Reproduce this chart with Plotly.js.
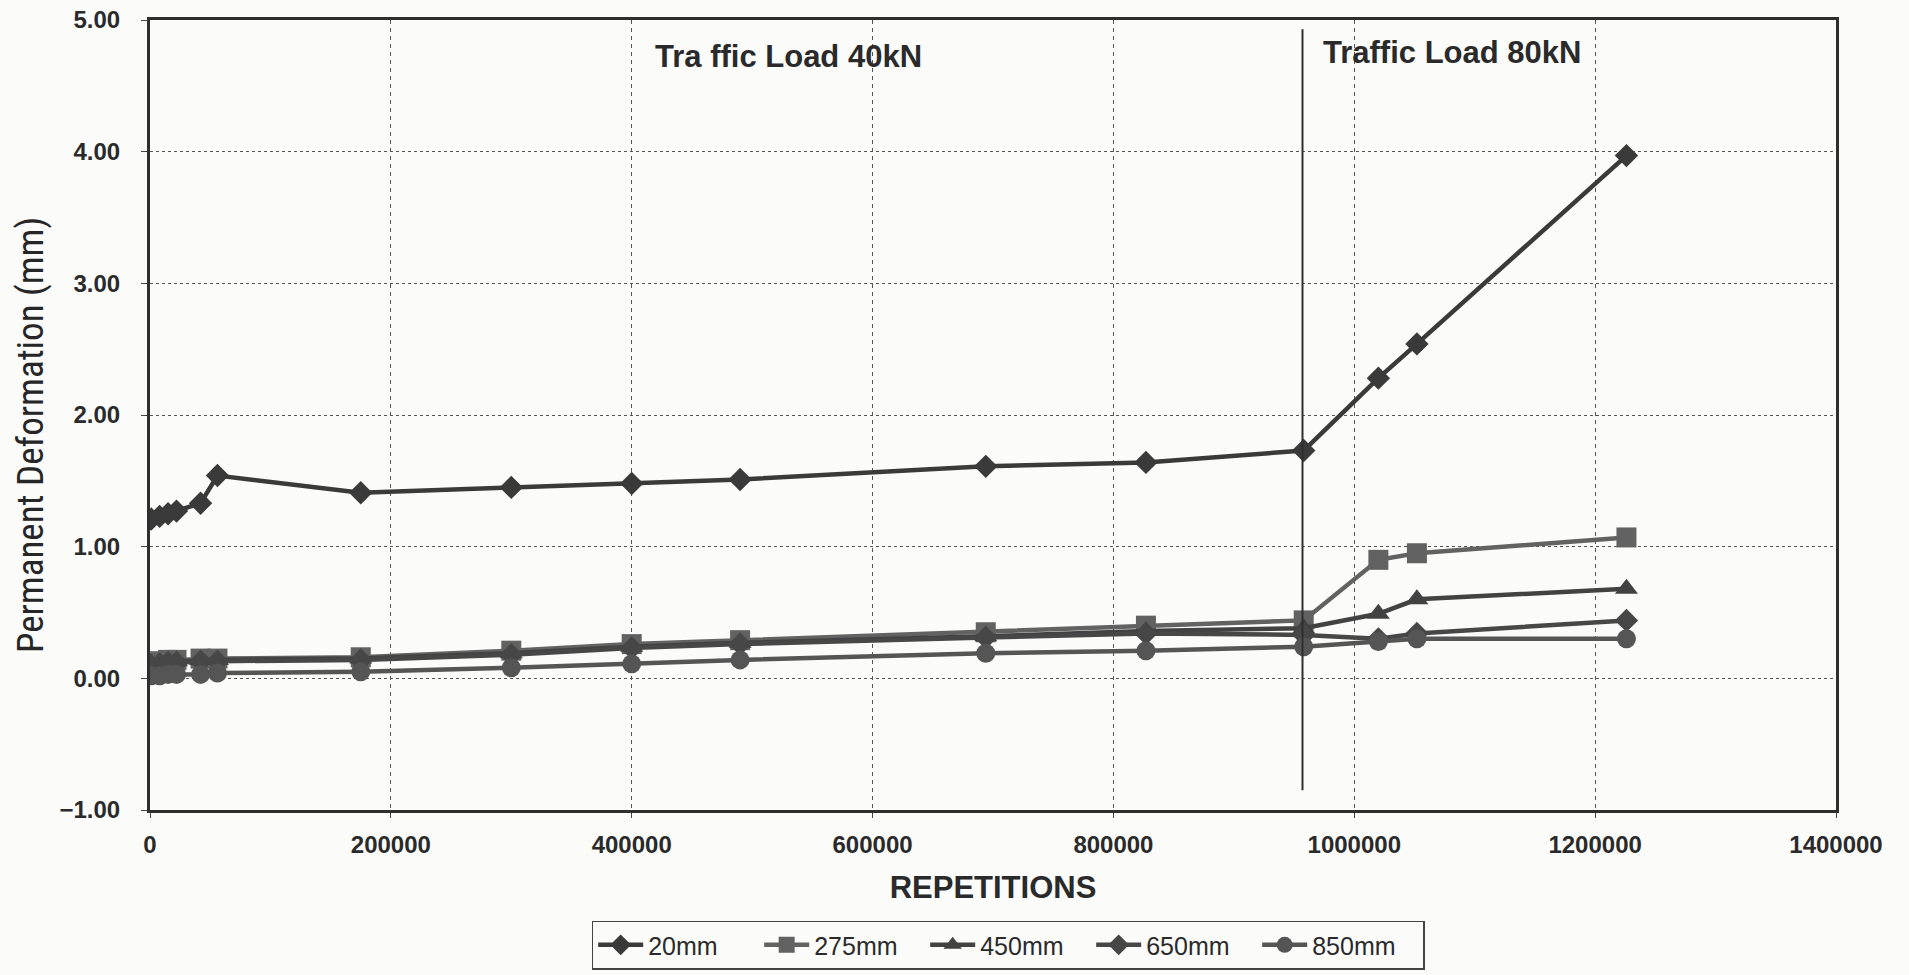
<!DOCTYPE html>
<html>
<head>
<meta charset="utf-8">
<script src="https://cdn.plot.ly/plotly-3.0.1.min.js"></script>
<style>
  html, body { margin: 0; padding: 0; background: #fbfbfa; }
  #chart { width: 1909px; height: 975px; }
</style>
</head>
<body>
<div id="chart"></div>
<script>
// ---- data ----
const repetitions = [1000, 8000, 15000, 22000, 42000, 56000, 175000, 300000, 400000, 490000, 694000, 827000, 958000, 1020000, 1052000, 1226000];
const def20mm  = [1.21, 1.23, 1.25, 1.27, 1.33, 1.54, 1.41, 1.45, 1.48, 1.51, 1.61, 1.64, 1.73, 2.28, 2.54, 3.97];
const def275mm = [0.12, 0.13, 0.14, 0.14, 0.15, 0.15, 0.16, 0.21, 0.26, 0.29, 0.35, 0.40, 0.44, 0.90, 0.95, 1.07];
const def450mm = [0.11, 0.12, 0.13, 0.13, 0.14, 0.14, 0.15, 0.19, 0.24, 0.27, 0.32, 0.36, 0.38, 0.49, 0.60, 0.68];
const def650mm = [0.10, 0.11, 0.12, 0.12, 0.13, 0.13, 0.14, 0.18, 0.23, 0.26, 0.31, 0.34, 0.33, 0.30, 0.34, 0.44];
const def850mm = [0.02, 0.02, 0.03, 0.03, 0.03, 0.04, 0.05, 0.08, 0.11, 0.14, 0.19, 0.21, 0.24, 0.28, 0.30, 0.30];
const seriesNames = ["20mm", "275mm", "450mm", "650mm", "850mm"];
const loadLabels = ["Tra ffic Load 40kN", "Traffic Load 80kN"];
const yTitle = "Permanent Deformation (mm)";
const xTitle = "REPETITIONS";
const loadChangeAt = 957000;
const yTicks = [-1, 0, 1, 2, 3, 4, 5];
const xTicks = [0, 200000, 400000, 600000, 800000, 1000000, 1200000, 1400000];

// ---- styles ----
const seriesData = [def20mm, def275mm, def450mm, def650mm, def850mm];
const symbols = ["diamond", "square", "triangle-up", "diamond", "circle"];
const colors = ["#3a3a3a", "#626262", "#424242", "#474747", "#555555"];
const sizes = [18, 20, 20, 18, 19];

const traces = seriesData.map((vals, i) => ({
  x: repetitions,
  y: vals,
  name: seriesNames[i],
  type: "scatter",
  mode: "lines+markers",
  line: { color: colors[i], width: 4.5 },
  marker: { symbol: symbols[i], size: sizes[i], color: colors[i], line: { width: 0 } }
}));

const narrow = "Liberation Sans Narrow, Roboto Condensed, DejaVu Sans Condensed, Liberation Sans, Arial, sans-serif";
const sans = "Liberation Sans, Arial, sans-serif";

const layout = {
  width: 1909,
  height: 975,
  paper_bgcolor: "#fbfbfa",
  plot_bgcolor: "#fbfbfa",
  margin: { l: 150, r: 73, t: 20, b: 165, autoexpand: false },
  showlegend: true,
  legend: {
    orientation: "h",
    x: 0.509, xanchor: "center",
    y: -0.14, yanchor: "top",
    bordercolor: "#444", borderwidth: 1.5,
    bgcolor: "#fbfbfa",
    font: { family: sans, size: 25, color: "#2a2a2a" },
    itemwidth: 45,
    entrywidth: 106,
    tracegroupgap: 0
  },
  xaxis: {
    range: [0, 1400000],
    tickvals: xTicks,
    ticktext: xTicks.map(String),
    tickfont: { family: sans, size: 24, color: "#2a2a2a", weight: "bold" },
    ticks: "outside", ticklen: 5, tickcolor: "#444",
    ticklabelstandoff: 6,
    showgrid: true, gridcolor: "#555", gridwidth: 1, griddash: "4px,4px",
    zeroline: false,
    showline: true, linecolor: "#2e2e2e", linewidth: 3, mirror: true,
    title: { text: xTitle, font: { family: sans, size: 31, color: "#2a2a2a", weight: "bold" }, standoff: 20 }
  },
  yaxis: {
    range: [-1, 5],
    tickvals: yTicks,
    tickformat: ".2f",
    tickfont: { family: sans, size: 24, color: "#2a2a2a", weight: "bold" },
    ticks: "outside", ticklen: 6, tickcolor: "#444",
    ticklabelstandoff: 16,
    showgrid: true, gridcolor: "#555", gridwidth: 1, griddash: "dot",
    zeroline: false,
    showline: true, linecolor: "#2e2e2e", linewidth: 3, mirror: true
  },
  shapes: [{
    type: "line", xref: "x", yref: "y",
    x0: loadChangeAt, x1: loadChangeAt, y0: -0.85, y1: 4.93,
    line: { color: "#2e2e2e", width: 2 }
  }],
  annotations: [
    { xref: "x", yref: "y", x: 530000, y: 4.72, text: loadLabels[0], showarrow: false,
      font: { family: sans, size: 31, color: "#2a2a2a", weight: "bold" } },
    { xref: "x", yref: "y", x: 972000, xanchor: "left", y: 4.75, text: loadLabels[1], showarrow: false,
      font: { family: sans, size: 31, color: "#2a2a2a", weight: "bold" } },
    { xref: "paper", yref: "paper", x: -0.071, y: 0.475, xanchor: "center", yanchor: "middle",
      text: yTitle, textangle: -90, showarrow: false,
      font: { family: narrow, size: 37, color: "#262626" } }
  ]
};

Plotly.newPlot("chart", traces, layout, { displayModeBar: false, staticPlot: true });
</script>
</body>
</html>
